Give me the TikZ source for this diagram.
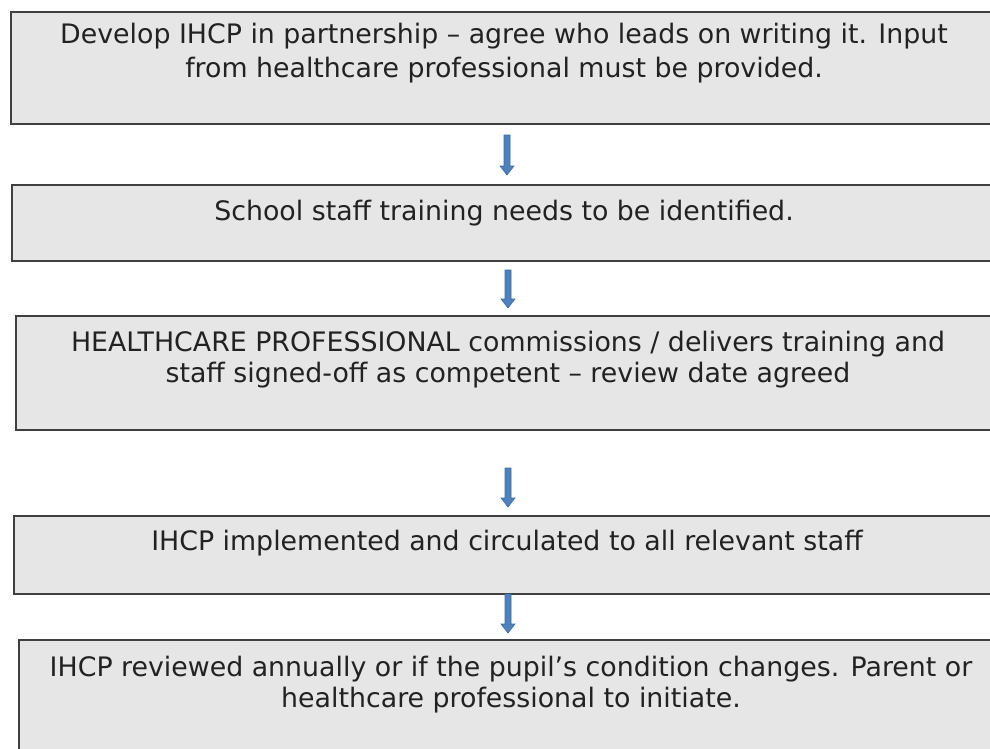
\documentclass[tikz,border=0pt]{standalone}
\usepackage{fontspec}
\setmainfont{DejaVu Sans}
\usetikzlibrary{calc}
\definecolor{boxfill}{HTML}{E6E6E6}
\definecolor{boxline}{HTML}{404040}
\definecolor{arrfill}{HTML}{4F81BD}
\definecolor{arrline}{HTML}{3D6DA3}
\definecolor{txtcol}{HTML}{222222}
\tikzset{
  stepbox/.style={draw=boxline, line width=2pt, fill=boxfill, rectangle, anchor=north west, inner sep=0pt, minimum width=1000pt},
  txt/.style={text=txtcol, align=center, inner sep=0pt, anchor=base, font=\fontsize{26.8pt}{31pt}\selectfont},
  barrow/.style={fill=arrfill, draw=arrline, line width=0.6pt, line join=miter}
}
\newcommand\blockarrow[2]{%
  \filldraw[barrow] ($(#1)+(-3,0)$) -- ($(#2)+(-3,-9)$) -- ($(#2)+(-7,-9)$) -- (#2) -- ($(#2)+(7,-9)$) -- ($(#2)+(3,-9)$) -- ($(#1)+(3,0)$) -- cycle;}
\begin{document}
\begin{tikzpicture}[x=1pt,y=-1pt]
\useasboundingbox (0,0) rectangle (990,748);
\clip (0,0) rectangle (990,748);
\node[stepbox, minimum height=112pt] (b1) at (10,11) {};
\node[stepbox, minimum height=76pt] (b2) at (11,184) {};
\node[stepbox, minimum height=114pt] (b3) at (15,315) {};
\node[stepbox, minimum height=78pt] (b4) at (13,515) {};
\node[stepbox, minimum height=140pt] (b5) at (18,639) {};
\node[txt, font=\fontsize{26.8pt}{34pt}\selectfont] (t1) at (504,77) {Develop IHCP in partnership – agree who leads on writing it. Input\\from healthcare professional must be provided.};
\node[txt] (t2) at (504,220) {School staff training needs to be identified.};
\node[txt] (t3) at (508,382) {HEALTHCARE PROFESSIONAL commissions / delivers training and\\staff signed-off as competent – review date agreed};
\node[txt] (t4) at (507,550) {IHCP implemented and circulated to all relevant staff};
\node[txt] (t5) at (511,707) {IHCP reviewed annually or if the pupil’s condition changes. Parent or\\healthcare professional to initiate.};
\coordinate (a1s) at (507,135); \coordinate (a1e) at (507,175);
\coordinate (a2s) at (508,270); \coordinate (a2e) at (508,308);
\coordinate (a3s) at (508,468); \coordinate (a3e) at (508,507);
\coordinate (a4s) at (508,594); \coordinate (a4e) at (508,633);
\blockarrow{a1s}{a1e}
\blockarrow{a2s}{a2e}
\blockarrow{a3s}{a3e}
\blockarrow{a4s}{a4e}
\end{tikzpicture}
\end{document}
